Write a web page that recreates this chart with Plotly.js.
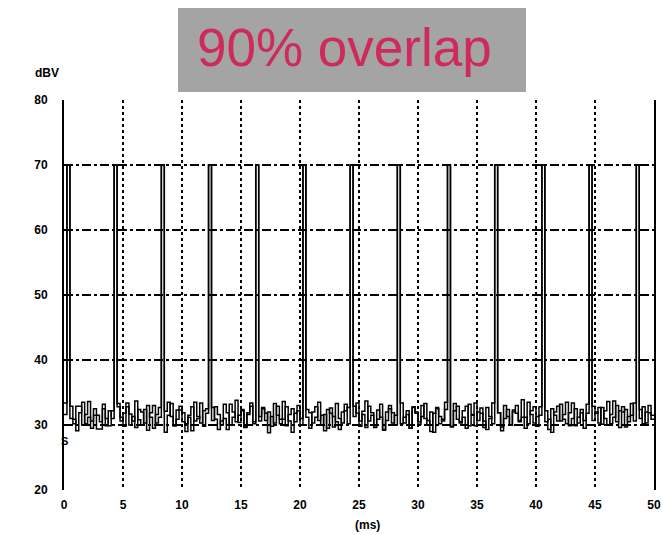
<!DOCTYPE html>
<html>
<head>
<meta charset="utf-8">
<script src="https://cdn.plot.ly/plotly-3.0.1.min.js"></script>
<style>html,body{margin:0;padding:0;background:#fff;}#chart{width:663px;height:535px;}</style>
</head>
<body>
<div id="chart"></div>
<script>
// ---- data ----
var sampleStep = 0.25;          // ms between samples
var spikeLevel = 70;            // dB level reached at each overlap peak
var spikeTimes = [0.17, 4.2, 8.3, 12.3, 16.3, 20.3, 24.3, 28.3, 32.4, 36.4, 40.4, 44.4, 48.5];
var noiseA = [33.4,33.4,31.0,30.2,32.9,32.9,30.0,31.6,33.6,30.6,
31.5,29.4,29.4,32.5,31.0,29.9,32.2,33.3,33.3,31.2,
29.8,32.8,31.7,30.6,33.7,30.8,30.0,32.4,29.2,31.9,
33.0,30.3,31.2,29.6,32.1,33.5,31.3,29.9,32.3,32.3,
30.5,29.0,31.5,32.8,30.6,31.0,33.4,29.8,31.8,30.2,
32.7,30.9,29.3,30.6,33.2,31.9,30.0,31.2,33.8,30.4,
32.2,29.7,31.6,32.9,30.5,29.1,31.3,32.5,30.7,32.0,
29.8,33.3,31.5,30.2,30.9,32.8,30.6,28.9,31.8,33.0,
31.0,29.9,32.4,31.9,30.3,31.2,33.5,30.0,31.6,29.5,
32.6,31.3,30.5,29.3,32.0,33.2,30.2,30.9,32.9,31.8,
29.8,32.1,33.7,30.6,31.5,29.6,32.3,31.2,29.2,30.7,
33.0,31.9,30.0,31.0,33.4,30.3,31.6,29.5,32.7,32.0,
30.1,31.3,33.3,30.7,29.0,31.8,32.5,30.2,30.9,33.5,
31.5,29.8,32.2,32.9,30.5,31.2,29.5,33.2,31.6,29.9,
32.0,32.6,30.6,29.3,31.0,33.4,30.3,31.9,29.7,33.0,
31.3,30.0,32.3,31.8,30.7,33.9,31.2,30.2,32.2,32.8,
29.8,31.5,33.3,30.5,30.9,28.9,32.0,32.9,30.6,31.6,
33.5,29.9,31.0,32.5,30.3,31.9,29.5,33.2,31.3,30.7,
31.8,32.7,30.1,32.2,33.6,30.2,31.2,33.0,29.6,32.0,
32.4,30.5,31.5,33.4,29.9,31.0,32.8,30.3,31.9,30.9];
var noiseB = [31.6,29.7,32.9,30.9,29.1,31.9,33.5,30.2,31.2,29.5,
32.5,31.5,30.5,33.2,29.9,32.2,31.0,29.3,32.8,30.6,
31.8,33.4,30.0,31.3,29.6,32.4,32.0,30.3,33.0,31.2,
29.5,31.6,32.7,30.7,28.9,31.5,33.3,29.9,30.9,32.9,
31.9,30.2,31.2,29.1,33.5,31.3,30.3,32.2,32.5,29.7,
30.7,32.8,31.6,30.0,31.0,29.3,33.2,32.0,30.5,31.5,
32.4,29.6,31.9,33.4,30.2,31.2,30.6,32.7,31.8,28.8,
31.3,30.3,32.9,30.9,33.6,29.9,31.6,32.5,30.5,32.2,
30.0,33.2,31.2,29.5,32.0,32.8,30.7,31.5,29.1,32.4,
31.8,29.7,33.3,31.0,30.3,32.2,32.7,30.0,31.3,33.4,
30.6,31.6,29.6,32.9,31.9,29.9,30.9,33.2,29.3,32.0,
32.5,30.3,31.5,33.6,30.2,31.2,32.2,29.5,32.8,31.8,
30.5,33.0,31.0,30.0,32.0,28.9,32.7,31.3,30.6,32.4,
31.6,29.7,33.3,30.9,30.3,32.2,32.9,29.9,31.5,33.4,
30.7,31.8,29.6,32.7,31.3,30.2,33.2,31.9,29.1,31.0,
32.4,30.0,32.0,33.0,30.5,31.2,29.5,33.5,31.6,30.3,
31.3,32.8,29.7,32.2,29.3,32.5,31.5,30.6,33.2,30.9,
30.2,31.9,33.4,29.9,31.2,32.4,30.7,31.8,29.6,32.9,
32.0,30.3,32.7,31.0,30.0,31.6,33.7,30.5,32.2,32.8,
29.7,31.3,33.3,30.6,31.8,32.4,30.2,32.0,33.0,31.5];
var xTicks = [0, 5, 10, 15, 20, 25, 30, 35, 40, 45, 50];
var xTickText = ['0', '5', '10', '15', '20', '25', '30', '35', '40', '45', '50'];
var yTicks = [20, 30, 40, 50, 60, 70, 80];
var yTickText = ['20', '30', '40', '50', '60', '70', '80'];
var xGrid = [5, 10, 15, 20, 25, 30, 35, 40, 45];
var yGrid = [30, 40, 50, 60, 70];
var titleText = '90% overlap';
var xLabel = '(ms)';
var yLabel = 'dBV';

// ---- build traces ----
function buildSeries(noise, offset) {
  var xs = [], ys = noise.slice();
  for (var i = 0; i < noise.length; i++) xs.push(i * sampleStep);
  spikeTimes.forEach(function (t) {
    var idx = Math.round(t / sampleStep) + offset;
    if (idx >= 0 && idx < ys.length) ys[idx] = spikeLevel;
  });
  xs.push(noise.length * sampleStep);
  ys.push(noise[noise.length - 1]);
  return {x: xs, y: ys};
}
var sA = buildSeries(noiseA, 0);
var sB = buildSeries(noiseB, 0);

var traces = [
  {x: sB.x, y: sB.y, type: 'scatter', mode: 'lines', line: {color: '#000', width: 1.5, shape: 'hv'}, hoverinfo: 'skip'},
  {x: sA.x, y: sA.y, type: 'scatter', mode: 'lines', line: {color: '#000', width: 1.5, shape: 'hv'}, hoverinfo: 'skip'},
  {x: [0], y: [28], xaxis: 'x2', yaxis: 'y2', type: 'scatter', mode: 'markers', marker: {opacity: 0}, hoverinfo: 'skip'}
];

var tickFont = {family: 'Liberation Sans, Arial, sans-serif', size: 12, color: '#000', weight: 'bold'};

var layout = {
  width: 663, height: 535,
  margin: {l: 64, r: 9, t: 100, b: 45},
  paper_bgcolor: '#fff', plot_bgcolor: 'rgba(0,0,0,0)',
  showlegend: false,
  xaxis: {
    range: [0, 50], tickmode: 'array', tickvals: xTicks, ticktext: xTickText,
    showgrid: false, zeroline: false, showline: false, ticks: '',
    tickfont: tickFont, ticklabelstandoff: 6, fixedrange: true
  },
  yaxis: {
    range: [20, 80], tickmode: 'array', tickvals: yTicks, ticktext: yTickText,
    showgrid: false, zeroline: false, showline: true, mirror: true,
    linecolor: '#000', linewidth: 2, ticks: '',
    tickfont: tickFont, ticklabelstandoff: 12, fixedrange: true
  },
  xaxis2: {
    range: [0, 50], overlaying: 'x', tickmode: 'array', tickvals: xGrid,
    showticklabels: false, showgrid: true, gridcolor: '#000', gridwidth: 2, griddash: 'dot',
    zeroline: false, showline: false, ticks: '', layer: 'below traces'
  },
  yaxis2: {
    range: [20, 80], overlaying: 'y', tickmode: 'array', tickvals: yGrid,
    showticklabels: false, showgrid: true, gridcolor: '#000', gridwidth: 1.5, griddash: 'dashdot',
    zeroline: false, showline: false, ticks: '', layer: 'below traces'
  },
  shapes: [
    {type: 'rect', xref: 'paper', yref: 'paper', x0: 0.1932, x1: 0.7831, y0: 1.0205, y1: 1.2359,
     fillcolor: '#a4a4a4', line: {width: 0}, layer: 'above'}
  ],
  annotations: [
    {xref: 'paper', yref: 'paper', x: 0.2215, y: 1.135, xanchor: 'left', yanchor: 'middle',
     text: titleText, showarrow: false,
     font: {family: 'Liberation Sans, Arial, sans-serif', size: 53, color: '#cf2a5c'}},
    {xref: 'paper', yref: 'paper', x: 0.5136, y: -0.09, xanchor: 'center', yanchor: 'middle',
     text: xLabel, showarrow: false, font: tickFont},
    {xref: 'paper', yref: 'paper', x: -0.028, y: 1.07, xanchor: 'center', yanchor: 'middle',
     text: yLabel, showarrow: false, font: tickFont},
    {xref: 'x', yref: 'y', x: 0, y: 27.6, xanchor: 'center', yanchor: 'middle',
     text: 'S', showarrow: false, font: {family: 'Liberation Sans, Arial, sans-serif', size: 11, color: '#000', weight: 'bold'}}
  ]
};

Plotly.newPlot('chart', traces, layout, {displayModeBar: false, staticPlot: true});
</script>
</body>
</html>
